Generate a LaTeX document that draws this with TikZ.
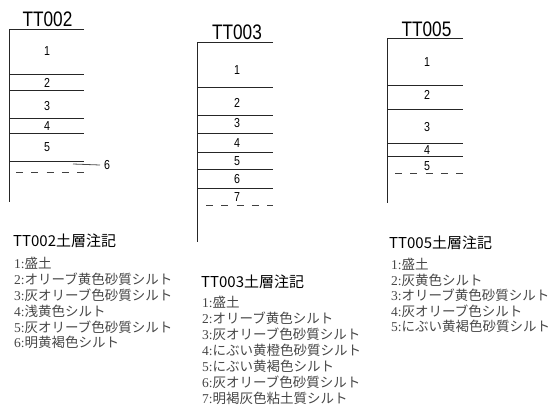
\documentclass[tikz,border=0pt]{standalone}
\usepackage{fontspec}
\setmainfont{Liberation Serif}
\newfontfamily\jp{Noto Sans CJK JP}
\newfontfamily\narrow[FakeStretch=0.82]{Liberation Sans}
\begin{document}
\begin{tikzpicture}[x=1pt,y=-1pt,
  stratum/.style={line width=0.9pt, black!85},
  dashline/.style={line width=0.9pt, black!75, dash pattern=on 7pt off 8.25pt},
  pittitle/.style={inner sep=0pt, font=\narrow\fontsize{21}{21}\selectfont},
  laynum/.style={inner sep=0pt, font=\narrow\fontsize{13}{13}\selectfont},
  legtitle/.style={inner sep=0pt, anchor=west, font=\jp\fontsize{15}{15}\selectfont},
  legentry/.style={inner sep=0pt, anchor=west, text=black!72, font=\jp\fontsize{13.5}{13.5}\selectfont}]
\useasboundingbox (0,0) rectangle (558,408);

% ---------- TT002 ----------
\node[pittitle] (t2) at (47.5,19.5) {TT002};
\draw[stratum] (84,29.5) -- (9.5,29.5) -- (9.5,202);
\foreach \yy in {74,90.7,118,133,161} \draw[stratum] (9.5,\yy) -- (84,\yy);
\draw[dashline] (16,172) -- (84,172);
\node[laynum] (a1) at (47,51) {1};
\node[laynum] (a2) at (47,83) {2};
\node[laynum] (a3) at (47,106.5) {3};
\node[laynum] (a4) at (47,126) {4};
\node[laynum] (a5) at (47,147) {5};
\node[laynum, anchor=west] (a6) at (104,165) {6};
\coordinate (a6s) at (73,164);
\draw[line width=0.8pt, black!70] (a6s) -- (a6.west -| 100,164);

% ---------- TT003 ----------
\node[pittitle] (t3) at (237,32.5) {TT003};
\draw[stratum] (273,42) -- (197,42) -- (197,242);
\foreach \yy in {87,115,133,152,169,188} \draw[stratum] (197,\yy) -- (273,\yy);
\draw[dashline] (206,205) -- (273,205);
\node[laynum] (b1) at (237,70) {1};
\node[laynum] (b2) at (237,103) {2};
\node[laynum] (b3) at (237,123) {3};
\node[laynum] (b4) at (237,143) {4};
\node[laynum] (b5) at (237,161) {5};
\node[laynum] (b6) at (237,179) {6};
\node[laynum] (b7) at (237,197.5) {7};

% ---------- TT005 ----------
\node[pittitle] (t5) at (426.5,29) {TT005};
\draw[stratum] (463,38) -- (387,38) -- (387,203);
\foreach \yy in {85,109,143,156} \draw[stratum] (387,\yy) -- (463,\yy);
\draw[dashline] (395,173) -- (463,173);
\node[laynum] (c1) at (427,62) {1};
\node[laynum] (c2) at (427,95) {2};
\node[laynum] (c3) at (427,127) {3};
\node[laynum] (c4) at (427,150.5) {4};
\node[laynum] (c5) at (427,166) {5};

% ---------- legends ----------
\node[legtitle] (L2) at (13,241) {TT002土層注記};
\node[legentry] (L2a) at (14,263) {{\rmfamily 1:}盛土};
\node[legentry] (L2b) at (14,279) {{\rmfamily 2:}オリーブ黄色砂質シルト};
\node[legentry] (L2c) at (14,295) {{\rmfamily 3:}灰オリーブ色砂質シルト};
\node[legentry] (L2d) at (14,311) {{\rmfamily 4:}浅黄色シルト};
\node[legentry] (L2e) at (14,327) {{\rmfamily 5:}灰オリーブ色砂質シルト};
\node[legentry] (L2f) at (14,342) {{\rmfamily 6:}明黄褐色シルト};

\node[legtitle] (L3) at (201,282) {TT003土層注記};
\node[legentry] (L3a) at (202,302) {{\rmfamily 1:}盛土};
\node[legentry] (L3b) at (202,318) {{\rmfamily 2:}オリーブ黄色シルト};
\node[legentry] (L3c) at (202,334) {{\rmfamily 3:}灰オリーブ色砂質シルト};
\node[legentry] (L3d) at (202,350) {{\rmfamily 4:}にぶい黄橙色砂質シルト};
\node[legentry] (L3e) at (202,366) {{\rmfamily 5:}にぶい黄褐色シルト};
\node[legentry] (L3f) at (202,382) {{\rmfamily 6:}灰オリーブ色砂質シルト};
\node[legentry] (L3g) at (202,398) {{\rmfamily 7:}明褐灰色粘土質シルト};

\node[legtitle] (L5) at (389,243) {TT005土層注記};
\node[legentry] (L5a) at (391,264) {{\rmfamily 1:}盛土};
\node[legentry] (L5b) at (391,280) {{\rmfamily 2:}灰黄色シルト};
\node[legentry] (L5c) at (391,295) {{\rmfamily 3:}オリーブ黄色砂質シルト};
\node[legentry] (L5d) at (391,311) {{\rmfamily 4:}灰オリーブ色シルト};
\node[legentry] (L5e) at (391,326) {{\rmfamily 5:}にぶい黄褐色砂質シルト};
\end{tikzpicture}
\end{document}
